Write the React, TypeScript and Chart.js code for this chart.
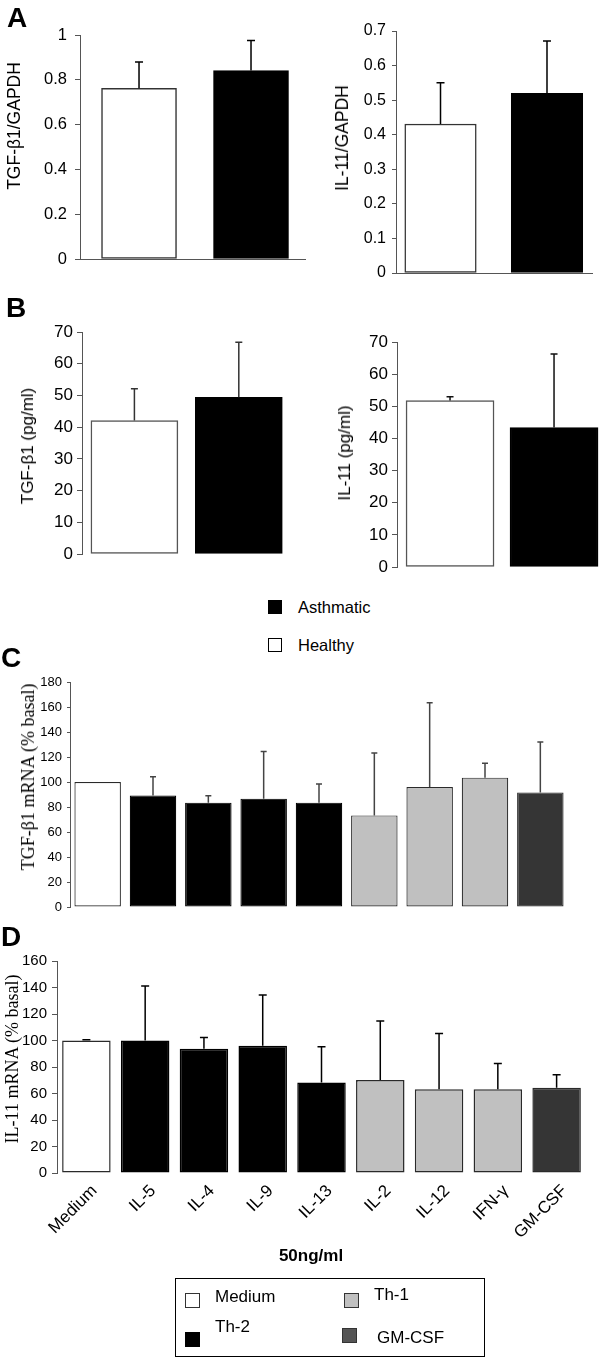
import React, { useEffect, useRef } from 'react';
import { Chart, registerables } from 'chart.js';

Chart.register(...registerables);

const SANS = '"Liberation Sans", Arial, Helvetica, sans-serif';
const SERIF = '"Liberation Serif", "Times New Roman", serif';

// ---------- data ----------
const groups = ['Healthy', 'Asthmatic'];
const groupFill = ['#ffffff', '#000000'];

const tgfGapdh = [0.762, 0.841];
const tgfGapdhErr = [0.118, 0.134];
const il11Gapdh = [0.431, 0.52];
const il11GapdhErr = [0.119, 0.151];

const tgfPg = [42.1, 49.4];
const tgfPgErr = [10.0, 17.4];
const il11Pg = [51.8, 43.4];
const il11PgErr = [1.2, 22.9];

const stimuli = ['Medium', 'IL-5', 'IL-4', 'IL-9', 'IL-13', 'IL-2', 'IL-12', 'IFN-γ', 'GM-CSF'];
const stimulusGroup = ['Medium', 'Th-2', 'Th-2', 'Th-2', 'Th-2', 'Th-1', 'Th-1', 'Th-1', 'GM-CSF'];
const tgfMrna = [100, 89.3, 83.5, 86.7, 83.5, 73.3, 96, 103.5, 91.7];
const tgfMrnaErr = [0, 15.0, 5.5, 37.8, 14.9, 49.9, 67.5, 11.5, 40.3];
const il11Mrna = [100, 100, 93.7, 96, 68.3, 70.1, 63.3, 63.3, 64.3];
const il11MrnaErr = [0.5, 41.2, 8.6, 38.4, 26.9, 44.7, 42.0, 19.4, 9.8];

const legendGroups = ['Medium', 'Th-1', 'Th-2', 'GM-CSF'];
const groupColor: Record<string, string> = {
  Medium: '#ffffff',
  'Th-2': '#000000',
  'Th-1': '#c0c0c0',
  'GM-CSF': '#353535',
};
const swatchColor: Record<string, string> = {
  Medium: '#ffffff',
  'Th-2': '#000000',
  'Th-1': '#c0c0c0',
  'GM-CSF': '#555555',
};

// ---------- error bar plugin ----------
const errorBarPlugin = {
  id: 'errorBars',
  afterDatasetsDraw(chart: any, _args: any, opts: any) {
    if (!opts || !opts.errors) return;
    const { ctx } = chart;
    const meta = chart.getDatasetMeta(0);
    const ys = chart.scales.y;
    ctx.save();
    ctx.strokeStyle = opts.color;
    ctx.lineWidth = opts.lineWidth;
    meta.data.forEach((bar: any, i: number) => {
      const e = opts.errors[i];
      if (!e) return;
      const v = opts.values[i];
      const yTop = ys.getPixelForValue(v + e);
      const yBar = ys.getPixelForValue(v);
      const x = bar.x;
      ctx.beginPath();
      ctx.moveTo(x, yBar);
      ctx.lineTo(x, yTop);
      ctx.moveTo(x - opts.cap / 2, yTop);
      ctx.lineTo(x + opts.cap / 2, yTop);
      ctx.stroke();
    });
    ctx.restore();
  },
};

type Panel = {
  id: string;
  box: { left: number; top: number; width: number; height: number };
  pad: { top: number; bottom: number; right: number };
  yWidth: number;
  labels: string[];
  values: number[];
  errors: number[];
  fills: string[];
  borders: string[];
  borderWidth: number;
  x: any;
  y: any;
  title: { text: string; font: string; cx: number; cy: number };
  err: { color: string; width: number; cap: number };
};

const panels: Panel[] = [
  {
    id: 'aL',
    box: { left: 0, top: 23, width: 306, height: 248 },
    pad: { top: 12, bottom: 12, right: 0 },
    yWidth: 80,
    labels: groups,
    values: tgfGapdh,
    errors: tgfGapdhErr,
    fills: groupFill,
    borders: ['#333333', '#000000'],
    borderWidth: 1.5,
    x: { kind: 'linear', min: -0.527, max: 1.491, thickness: 75, border: true },
    y: { max: 1, step: 0.2, tickFont: 16.5, tickPad: 8, tickLen: 5 },
    title: { text: 'TGF-β1/GAPDH', font: `17.5px ${SANS}`, cx: 14, cy: 126 },
    err: { color: '#000000', width: 1.5, cap: 8 },
  },
  {
    id: 'aR',
    box: { left: 328, top: 19, width: 265, height: 266 },
    pad: { top: 12, bottom: 12, right: 0 },
    yWidth: 68,
    labels: groups,
    values: il11Gapdh,
    errors: il11GapdhErr,
    fills: groupFill,
    borders: ['#333333', '#000000'],
    borderWidth: 1.5,
    x: { kind: 'linear', min: -0.418, max: 1.432, thickness: 71.5, border: true },
    y: { max: 0.7, step: 0.1, tickFont: 16, tickPad: 6, tickLen: 4 },
    title: { text: 'IL-11/GAPDH', font: `17.5px ${SANS}`, cx: 342, cy: 138 },
    err: { color: '#000000', width: 1.5, cap: 8 },
  },
  {
    id: 'bL',
    box: { left: 14, top: 320, width: 277, height: 246 },
    pad: { top: 12, bottom: 12, right: 0 },
    yWidth: 68,
    labels: groups,
    values: tgfPg,
    errors: tgfPgErr,
    fills: groupFill,
    borders: ['#555555', '#000000'],
    borderWidth: 1.5,
    x: { kind: 'linear', min: -0.502, max: 1.5, thickness: 87, border: false },
    y: { max: 70, step: 10, tickFont: 17, tickPad: 4, tickLen: 5 },
    title: { text: 'TGF-β1 (pg/ml)', font: `17px ${SANS}`, cx: 28, cy: 446 },
    err: { color: '#333333', width: 1.5, cap: 7 },
  },
  {
    id: 'bR',
    box: { left: 331, top: 330, width: 269, height: 249 },
    pad: { top: 12, bottom: 12, right: 0 },
    yWidth: 66,
    labels: groups,
    values: il11Pg,
    errors: il11PgErr,
    fills: groupFill,
    borders: ['#555555', '#000000'],
    borderWidth: 1.5,
    x: { kind: 'linear', min: -0.51, max: 1.442, thickness: 88, border: false },
    y: { max: 70, step: 10, tickFont: 17, tickPad: 4, tickLen: 5 },
    title: { text: 'IL-11 (pg/ml)', font: `17px ${SANS}`, cx: 345, cy: 453 },
    err: { color: '#111111', width: 1.5, cap: 7 },
  },
  {
    id: 'c',
    box: { left: 13, top: 670, width: 555, height: 249 },
    pad: { top: 12, bottom: 12, right: 0 },
    yWidth: 57,
    labels: stimuli,
    values: tgfMrna,
    errors: tgfMrnaErr,
    fills: stimulusGroup.map((g) => groupColor[g]),
    borders: stimulusGroup.map((g) => (g === 'Th-2' ? '#000000' : '#2a2a2a')),
    borderWidth: 1.2,
    x: { kind: 'category', barPct: 0.84, showLabels: false },
    y: { max: 180, step: 20, tickFont: 13, tickPad: 5, tickLen: 3 },
    title: { text: 'TGF-β1 mRNA (% basal)', font: `18px ${SERIF}`, cx: 28, cy: 777 },
    err: { color: '#444444', width: 1.5, cap: 6 },
  },
  {
    id: 'd',
    box: { left: 1, top: 949, width: 585, height: 304 },
    pad: { top: 12, bottom: 0, right: 0 },
    yWidth: 56,
    labels: stimuli,
    values: il11Mrna,
    errors: il11MrnaErr,
    fills: stimulusGroup.map((g) => groupColor[g]),
    borders: stimulusGroup.map((g) => (g === 'Th-2' ? '#000000' : '#2a2a2a')),
    borderWidth: 1.5,
    x: { kind: 'category', barPct: 0.825, showLabels: true, height: 80 },
    y: { max: 160, step: 20, tickFont: 15, tickPad: 5, tickLen: 5 },
    title: { text: 'IL-11 mRNA (% basal)', font: `18px ${SERIF}`, cx: 12, cy: 1059 },
    err: { color: '#000000', width: 1.5, cap: 8 },
  },
];

const fmt = (v: number) => String(Math.round(v * 1000) / 1000);

function buildConfig(p: Panel): any {
  const linear = p.x.kind === 'linear';
  const data = linear ? p.values.map((v, i) => ({ x: i, y: v })) : p.values;
  const dataset: any = {
    data,
    backgroundColor: p.fills,
    borderColor: p.borders,
    borderWidth: p.borderWidth,
    borderSkipped: false,
  };
  if (linear) {
    dataset.barThickness = p.x.thickness;
  } else {
    dataset.barPercentage = p.x.barPct;
    dataset.categoryPercentage = 1;
  }
  const xScale: any = linear
    ? {
        type: 'linear',
        min: p.x.min,
        max: p.x.max,
        offset: false,
        grid: { display: false, drawTicks: false },
        ticks: { display: false },
        border: { display: p.x.border, color: '#555555', width: 1 },
        afterFit: (s: any) => {
          s.height = 0;
          s.paddingLeft = 0;
          s.paddingRight = 0;
        },
      }
    : {
        type: 'category',
        offset: true,
        grid: { display: false, drawTicks: false },
        border: { display: false },
        ticks: p.x.showLabels
          ? {
              display: true,
              autoSkip: false,
              maxRotation: 45,
              minRotation: 45,
              padding: 8,
              labelOffset: 8,
              color: '#000000',
              font: { family: SANS, size: 17 },
            }
          : { display: false },
        afterFit: (s: any) => {
          s.height = p.x.showLabels ? p.x.height : 0;
          s.paddingLeft = 0;
          s.paddingRight = 0;
        },
      };
  return {
    type: 'bar',
    data: { labels: p.labels, datasets: [dataset] },
    options: {
      animation: false,
      responsive: false,
      layout: { padding: { top: p.pad.top, bottom: p.pad.bottom, right: p.pad.right, left: 0 } },
      plugins: {
        legend: { display: false },
        tooltip: { enabled: false },
        errorBars: { values: p.values, errors: p.errors, color: p.err.color, lineWidth: p.err.width, cap: p.err.cap },
      },
      scales: {
        x: xScale,
        y: {
          type: 'linear',
          min: 0,
          max: p.y.max,
          ticks: {
            stepSize: p.y.step,
            color: '#000000',
            padding: p.y.tickPad,
            font: { family: SANS, size: p.y.tickFont },
            callback: (v: any) => fmt(Number(v)),
          },
          grid: { display: true, drawOnChartArea: false, drawTicks: true, tickLength: p.y.tickLen, color: '#555555' },
          border: { display: true, color: '#555555', width: 1 },
          title: { display: false },
          afterFit: (s: any) => {
            s.width = p.yWidth;
            s.paddingTop = 0;
            s.paddingBottom = 0;
          },
        },
      },
    },
    plugins: [errorBarPlugin],
  };
}

function BarPanel({ p }: { p: Panel }) {
  const ref = useRef<HTMLCanvasElement>(null);
  useEffect(() => {
    const chart = new Chart(ref.current as HTMLCanvasElement, buildConfig(p));
    return () => chart.destroy();
  }, []);
  return (
    <>
      <canvas
        ref={ref}
        width={p.box.width}
        height={p.box.height}
        style={{ position: 'absolute', left: p.box.left, top: p.box.top, width: p.box.width, height: p.box.height }}
      />
      <div
        style={{
          position: 'absolute',
          left: p.title.cx,
          top: p.title.cy,
          transform: 'translate(-50%, -50%) rotate(-90deg)',
          font: p.title.font,
          lineHeight: '20px',
          whiteSpace: 'nowrap',
          color: '#000',
        }}
      >
        {p.title.text}
      </div>
    </>
  );
}

const textStyle = (left: number, top: number, size: number, extra: any = {}): any => ({
  position: 'absolute',
  left,
  top,
  height: 20,
  lineHeight: '20px',
  fontFamily: SANS,
  fontSize: size,
  color: '#000',
  whiteSpace: 'nowrap',
  ...extra,
});

const letterStyle = (left: number, top: number): any => ({
  position: 'absolute',
  left,
  top,
  height: 28,
  lineHeight: '28px',
  fontFamily: SANS,
  fontSize: 28,
  fontWeight: 'bold',
  color: '#000',
});

const swatch = (left: number, top: number, fill: string, border: string, size = 15): any => ({
  position: 'absolute',
  left,
  top,
  width: size,
  height: size,
  boxSizing: 'border-box',
  background: fill,
  border: `1px solid ${border}`,
});

export default function App() {
  useEffect(() => {
    document.body.style.margin = '0';
  }, []);
  const bottomLegendPos: Record<string, { sx: number; sy: number; tx: number; ty: number }> = {
    Medium: { sx: 185, sy: 1293, tx: 215, ty: 1287 },
    'Th-1': { sx: 344, sy: 1293, tx: 374, ty: 1285 },
    'Th-2': { sx: 185, sy: 1332, tx: 215, ty: 1317 },
    'GM-CSF': { sx: 342, sy: 1328, tx: 377, ty: 1328 },
  };
  return (
    <div style={{ position: 'absolute', left: 0, top: 0, width: 600, height: 1358, background: '#fff', overflow: 'hidden' }}>
      {panels.map((p) => (
        <BarPanel key={p.id} p={p} />
      ))}
      <div style={letterStyle(7, 4)}>A</div>
      <div style={letterStyle(6, 294)}>B</div>
      <div style={letterStyle(1, 644)}>C</div>
      <div style={letterStyle(1, 923)}>D</div>

      {/* group legend */}
      <div style={swatch(268, 600, groupFill[1], '#000', 14)} />
      <div style={textStyle(298, 597, 16.5)}>{groups[1]}</div>
      <div style={swatch(268, 638, groupFill[0], '#000', 14)} />
      <div style={textStyle(298, 635, 16.5)}>{groups[0]}</div>

      <div style={textStyle(211, 1246, 17, { width: 200, textAlign: 'center', fontWeight: 'bold' })}>50ng/ml</div>

      <div
        style={{
          position: 'absolute',
          left: 175,
          top: 1278,
          width: 310,
          height: 79,
          boxSizing: 'border-box',
          border: '1.5px solid #000',
        }}
      />
      {legendGroups.map((g) => {
        const q = bottomLegendPos[g];
        return (
          <React.Fragment key={g}>
            <div style={swatch(q.sx, q.sy, swatchColor[g], g === 'Th-2' ? '#000' : '#333')} />
            <div style={textStyle(q.tx, q.ty, 17)}>{g}</div>
          </React.Fragment>
        );
      })}
    </div>
  );
}
